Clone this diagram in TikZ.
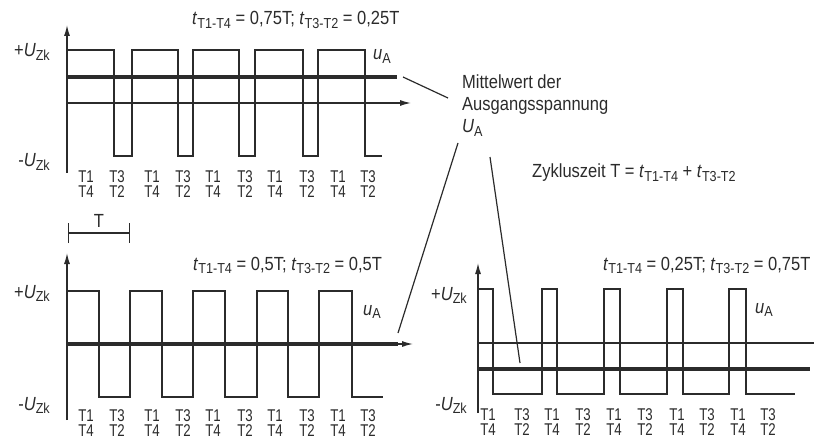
\documentclass[tikz,border=0pt]{standalone}
\usepackage{fontspec}
\setmainfont{Liberation Sans}[FakeStretch=0.87]
\newfontfamily\narrowfont{Liberation Sans}[FakeStretch=0.78]
\usetikzlibrary{arrows.meta}

\definecolor{ink}{gray}{0.17}
\newcommand{\low}[1]{\raisebox{-0.35ex}{\fontsize{14.5}{14.5}\selectfont #1}}
\newcommand{\Uzk}{\textit{U}\low{Zk}}

\tikzset{
  wave/.style={ink, line width=2.8pt, line join=miter},
  mean/.style={ink, line width=4.6pt},
  axis/.style={ink, line width=1.3pt, -{Latex[length=11pt,width=6pt]}},
  thin/.style={ink, line width=1.2pt},
  txt/.style={text=ink, font=\fontsize{19}{21}\selectfont, inner sep=0pt},
  tlabel/.style={text=ink, font=\narrowfont\fontsize{17}{15.5}\selectfont, align=center, inner sep=0pt}
}

\begin{document}
\begin{tikzpicture}[x=1pt, y=-1pt]
\useasboundingbox (0,0) rectangle (814,441);

% Upper Left
% t_T1-T4 = 0.75T
\begin{scope}[shift={(67,50)}]
  \draw[axis] (0,123) -- (0,-25);
  \draw[axis] (0,53) -- (344,53);
  \draw[wave] (0,0) -- (47,0) -- (47,106) -- (65,106) -- (65,0) -- (111,0) -- (111,106) -- (126,106)
    -- (126,0) -- (172,0) -- (172,106) -- (188,106) -- (188,0) -- (236,0) -- (236,106) -- (251,106)
    -- (251,0) -- (298,0) -- (298,106) -- (315,106);
  \draw[mean] (0,27) -- (330,27);

  \node[txt, anchor=base east] (upA) at (-17,7) {+\Uzk};
  \node[txt, anchor=base east] (unA) at (-17,117) {-\Uzk};
  \node[txt, anchor=base west] (uA) at (306,10) {\textit{u}\low{A}};
  \node[txt, anchor=base west] (tA) at (125,-25) {\textit{t}\low{T1-T4} = 0,75T; \textit{t}\low{T3-T2} = 0,25T};

  \node[tlabel] (a1) at (19,134) {T1\\T4};
  \node[tlabel] (a2) at (50,134) {T3\\T2};
  \node[tlabel] (a3) at (85,134) {T1\\T4};
  \node[tlabel] (a4) at (116,134) {T3\\T2};
  \node[tlabel] (a5) at (146,134) {T1\\T4};
  \node[tlabel] (a6) at (178,134) {T3\\T2};
  \node[tlabel] (a7) at (208,134) {T1\\T4};
  \node[tlabel] (a8) at (240,134) {T3\\T2};
  \node[tlabel] (a9) at (271,134) {T1\\T4};
  \node[tlabel] (a10) at (301,134) {T3\\T2};
\end{scope}

% Period bracket
\coordinate (Tl) at (68,233);
\coordinate (Tr) at (130,233);
\draw[ink, line width=1.4pt, {Bar[width=20pt]}-{Bar[width=20pt]}] (Tl) -- node[txt, above=5pt] (per) {T} (Tr);

% Lower Left
% t_T1-T4 = 0.5T
\begin{scope}[shift={(67,291)}]
  \draw[axis] (0,129) -- (0,-38);
  \draw[axis] (0,53) -- (346,53);
  \draw[wave] (0,0) -- (32,0) -- (32,106) -- (63,106) -- (63,0) -- (95,0) -- (95,106) -- (126,106)
    -- (126,0) -- (158,0) -- (158,106) -- (190,106) -- (190,0) -- (221,0) -- (221,106) -- (252,106)
    -- (252,0) -- (285,0) -- (285,106) -- (316,106);
  \draw[mean] (0,53) -- (331,53);

  \node[txt, anchor=base east] (upB) at (-17,7) {+\Uzk};
  \node[txt, anchor=base east] (unB) at (-17,119) {-\Uzk};
  \node[txt, anchor=base west] (uB) at (296,24) {\textit{u}\low{A}};
  \node[txt, anchor=base west] (tB) at (126,-21) {\textit{t}\low{T1-T4} = 0,5T; \textit{t}\low{T3-T2} = 0,5T};

  \node[tlabel] (b1) at (19,132) {T1\\T4};
  \node[tlabel] (b2) at (50,132) {T3\\T2};
  \node[tlabel] (b3) at (85,132) {T1\\T4};
  \node[tlabel] (b4) at (116,132) {T3\\T2};
  \node[tlabel] (b5) at (146,132) {T1\\T4};
  \node[tlabel] (b6) at (178,132) {T3\\T2};
  \node[tlabel] (b7) at (208,132) {T1\\T4};
  \node[tlabel] (b8) at (240,132) {T3\\T2};
  \node[tlabel] (b9) at (271,132) {T1\\T4};
  \node[tlabel] (b10) at (301,132) {T3\\T2};
\end{scope}

% Lower Right
% t_T1-T4 = 0.25T
\begin{scope}[shift={(478,289)}]
  \draw[axis] (0,124) -- (0,-26);
  \draw[thin] (0,54) -- (336,54);
  \draw[wave] (0,0) -- (15,0) -- (15,105) -- (64,105) -- (64,0) -- (79,0) -- (79,105) -- (126,105)
    -- (126,0) -- (142,0) -- (142,105) -- (189,105) -- (189,0) -- (205,0) -- (205,105) -- (251,105)
    -- (251,0) -- (268,0) -- (268,105) -- (317,105);
  \draw[mean] (0,80) -- (332,80);

  \node[txt, anchor=base east] (upC) at (-11,11) {+\Uzk};
  \node[txt, anchor=base east] (unC) at (-11,121) {-\Uzk};
  \node[txt, anchor=base west] (uC) at (277,24) {\textit{u}\low{A}};
  \node[txt, anchor=base west] (tC) at (125,-19) {\textit{t}\low{T1-T4} = 0,25T; \textit{t}\low{T3-T2} = 0,75T};

  \node[tlabel] (c1) at (10,133) {T1\\T4};
  \node[tlabel] (c2) at (44,133) {T3\\T2};
  \node[tlabel] (c3) at (74,133) {T1\\T4};
  \node[tlabel] (c4) at (105,133) {T3\\T2};
  \node[tlabel] (c5) at (136,133) {T1\\T4};
  \node[tlabel] (c6) at (167,133) {T3\\T2};
  \node[tlabel] (c7) at (199,133) {T1\\T4};
  \node[tlabel] (c8) at (229,133) {T3\\T2};
  \node[tlabel] (c9) at (260,133) {T1\\T4};
  \node[tlabel] (c10) at (290,133) {T3\\T2};
\end{scope}

% Mean value text and pointers
\node[txt, font=\fontsize{19}{22}\selectfont, align=left, anchor=north west] (mittel) at (462,75)
  {Mittelwert der\\Ausgangsspannung\\\textit{U}\low{A}};
\node[txt, anchor=base west] (zyk) at (532,178) {Zykluszeit T = \textit{t}\low{T1-T4} + \textit{t}\low{T3-T2}};

\coordinate (pA) at (403,77);
\coordinate (qA) at (448,98);
\coordinate (pB) at (458,143);
\coordinate (qB) at (398,333);
\coordinate (pC) at (490,157);
\coordinate (qC) at (520,363);
\draw[thin] (pA) -- (qA);
\draw[thin] (pB) -- (qB);
\draw[thin] (pC) -- (qC);
\end{tikzpicture}
\end{document}
